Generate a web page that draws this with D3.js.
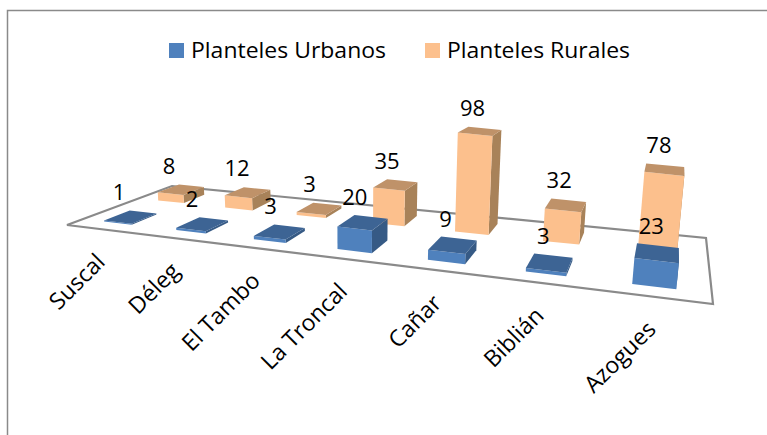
<!DOCTYPE html>
<html><head><meta charset="utf-8">
<script src="https://cdnjs.cloudflare.com/ajax/libs/d3/7.8.5/d3.min.js"></script>
<style>html,body{margin:0;padding:0;background:#fff}svg{display:block}text{font-family:"Open Sans",Lato,sans-serif;fill:#000}</style>
</head><body><div id="chart"></div>
<script>
const categories=["Suscal","Déleg","El Tambo","La Troncal","Cañar","Biblián","Azogues"];
const urbanos=[1,2,3,20,9,3,23];
const rurales=[8,12,3,35,98,32,78];
const seriesNames=["Planteles Urbanos","Planteles Rurales"];
const seriesColors=[{front:"#4f81bd",top:"#3d6494",side:"#365a85"},{front:"#fcc08d",top:"#bf9269",side:"#a88259"}];

const W=767,H=435;
const svg=d3.select("#chart").append("svg").attr("width",W).attr("height",H);

const FL=[67,225],FR=[713,304],BR=[706,238],BL=[172,186];
function homography(p){
  const [a,b,c,d]=p;
  const dx1=b[0]-c[0],dx2=d[0]-c[0],sx=a[0]-b[0]+c[0]-d[0];
  const dy1=b[1]-c[1],dy2=d[1]-c[1],sy=a[1]-b[1]+c[1]-d[1];
  const den=dx1*dy2-dx2*dy1;
  const g=(sx*dy2-dx2*sy)/den,h=(dx1*sy-sx*dy1)/den;
  const A=b[0]-a[0]+g*b[0],B=d[0]-a[0]+h*d[0],C=a[0];
  const D=b[1]-a[1]+g*b[1],E=d[1]-a[1]+h*d[1],F=a[1];
  return (u,v)=>{const w=g*u+h*v+1;return [(A*u+B*v+C)/w,(D*u+E*v+F)/w];};
}
const floor=homography([FL,FR,BR,BL]);
const uScale=d3.scaleBand().domain(categories).range([0,1]).paddingInner(0.61).paddingOuter(0.305);
const vScale=d3.scaleBand().domain(seriesNames).range([0,1]).paddingInner(0.55).paddingOuter(0.255);
const hScale=d3.scaleLinear().domain([0,100]).range([0,100]);
const VX=360;
function project(u,v,val){
  const p=floor(u,v);
  const k=1.16-0.23*v;
  const h=hScale(val)*k;
  return [p[0]+(p[0]-VX)*h*0.0003,p[1]-h];
}
const poly=pts=>pts.map(p=>p.map(n=>n.toFixed(1)).join(",")).join(" ");

svg.append("path").attr("d","M7.5,435V10.5H767").attr("fill","none").attr("stroke","#8a8a8a").attr("stroke-width",1.5);
svg.append("polygon").attr("points",poly([FL,FR,BR,BL])).attr("fill","#fff").attr("stroke","#8a8a8a").attr("stroke-width",2.2);

const rows=[{name:seriesNames[1],vals:rurales,c:seriesColors[1]},{name:seriesNames[0],vals:urbanos,c:seriesColors[0]}];
const labels=[];
rows.forEach(r=>{
  const v0=vScale(r.name),v1=v0+vScale.bandwidth();
  const g=svg.append("g");
  categories.forEach((cat,i)=>{
    const u0=uScale(cat),u1=u0+uScale.bandwidth(),val=r.vals[i];
    const a=project(u0,v0,0),b=project(u1,v0,0),c=project(u1,v1,0);
    const A=project(u0,v0,val),B=project(u1,v0,val),C=project(u1,v1,val),D=project(u0,v1,val);
    g.append("polygon").attr("points",poly([b,c,C,B])).attr("fill",r.c.side);
    g.append("polygon").attr("points",poly([a,b,B,A])).attr("fill",r.c.front);
    g.append("polygon").attr("points",poly([A,B,C,D])).attr("fill",r.c.top);
    const t=project((u0+u1)/2,v1,val);
    labels.push({x:t[0],y:t[1],val});
  });
});
svg.append("g").selectAll("text").data(labels).join("text")
  .attr("x",d=>d.x-6-(669-d.x)*0.034).attr("y",d=>d.y-12).attr("text-anchor","middle").attr("font-size",22).text(d=>d.val);

svg.append("g").selectAll("text").data(categories).join("text")
  .attr("text-anchor","end").attr("font-size",23)
  .attr("transform",d=>{const p=floor(uScale(d)+uScale.bandwidth()/2,0);return `translate(${p[0]+4},${p[1]+34}) rotate(-45)`;})
  .text(d=>d);

const legendX=[169,425];
seriesNames.forEach((n,i)=>{
  svg.append("rect").attr("x",legendX[i]).attr("y",43).attr("width",15).attr("height",15).attr("fill",seriesColors[i].front);
  svg.append("text").attr("x",legendX[i]+22).attr("y",58).attr("font-size",22)
    .attr("textLength",i?183:195).attr("lengthAdjust","spacingAndGlyphs").text(n);
});
</script></body></html>
